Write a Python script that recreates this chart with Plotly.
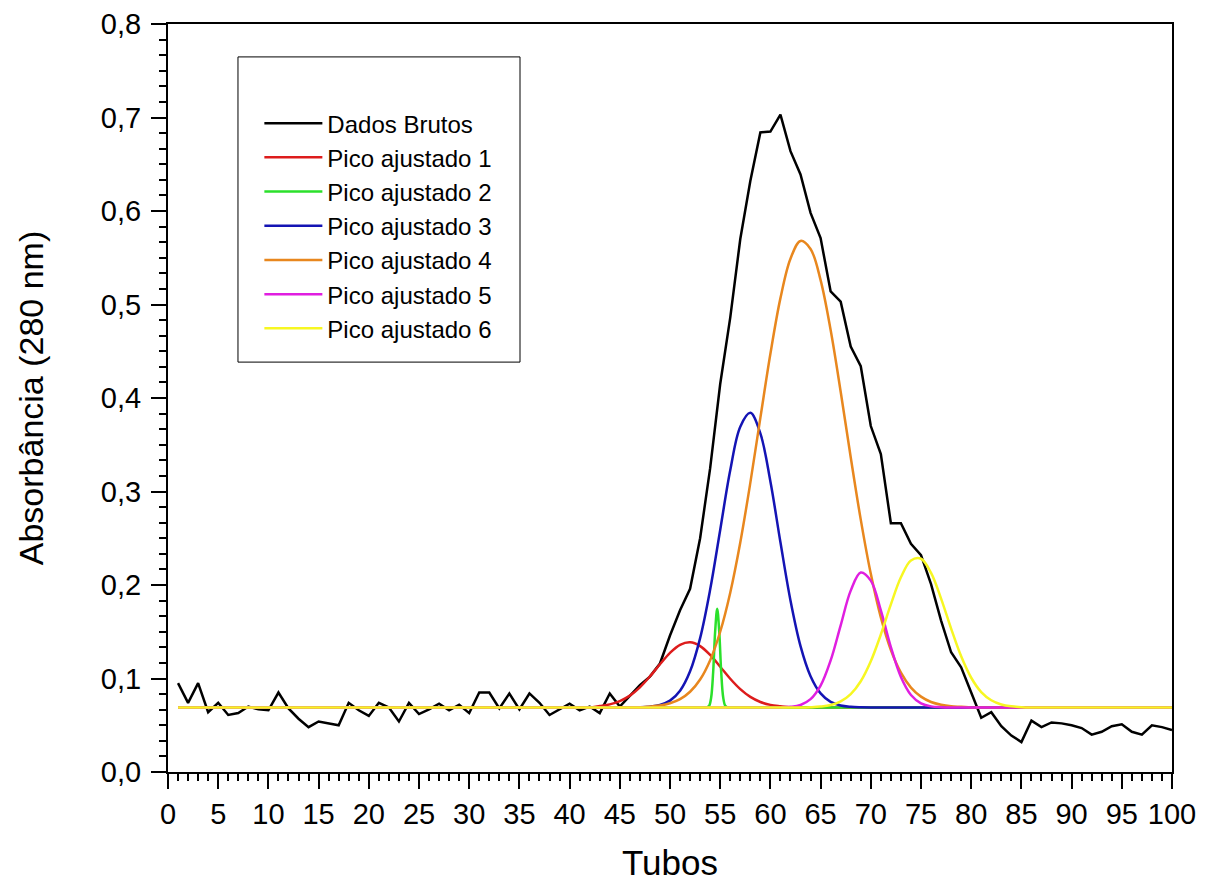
import plotly.graph_objects as go

# ---------------- data ----------------
tubos = list(range(1, 101))
dados_brutos = [
    0.095, 0.074, 0.095, 0.064, 0.074, 0.061, 0.063, 0.070, 0.067, 0.066,
    0.085, 0.068, 0.057, 0.048, 0.054, 0.052, 0.050, 0.074, 0.066, 0.060,
    0.074, 0.069, 0.054, 0.074, 0.062, 0.067, 0.073, 0.066, 0.072, 0.063,
    0.085, 0.085, 0.068, 0.084, 0.067, 0.084, 0.074, 0.061, 0.067, 0.073,
    0.066, 0.070, 0.063, 0.084, 0.070, 0.082, 0.093, 0.102, 0.116, 0.146,
    0.173, 0.196, 0.250, 0.325, 0.415, 0.486, 0.570, 0.632, 0.684, 0.685,
    0.703, 0.664, 0.639, 0.598, 0.571, 0.514, 0.503, 0.455, 0.434, 0.370,
    0.340, 0.266, 0.266, 0.244, 0.232, 0.201, 0.162, 0.128, 0.112, 0.085,
    0.058, 0.064, 0.049, 0.039, 0.032, 0.055, 0.048, 0.053, 0.052, 0.050,
    0.047, 0.040, 0.043, 0.049, 0.051, 0.043, 0.040, 0.050, 0.048, 0.045,
]

# baseline level of the fitted peaks (read from the flat part of the fits)
linha_base = 0.069

# fitted peaks: first tube of the raised part and the values read from it
pico1_inicio = 42
pico1_valores = [0.069, 0.0705, 0.0723, 0.0758, 0.0817, 0.0906, 0.1022, 0.1152, 0.1274, 0.1360,
                 0.1387, 0.1347, 0.1252, 0.1126, 0.0997, 0.0886, 0.0803, 0.0749, 0.0718, 0.0702]

pico3_inicio = 47
pico3_valores = [0.0692, 0.0699, 0.0717, 0.0763, 0.0869, 0.1077, 0.1432, 0.1951, 0.2589, 0.3227,
                 0.3693, 0.3841, 0.3621, 0.3107, 0.2457, 0.1835, 0.1347, 0.1025, 0.0841, 0.0750,
                 0.0711, 0.0697, 0.0692]

pico4_inicio = 48
pico4_valores = [0.0700, 0.0711, 0.0735, 0.0779, 0.0858, 0.0989, 0.1196, 0.150, 0.1918, 0.2455,
                 0.3092, 0.3787, 0.4473, 0.5068, 0.549, 0.568, 0.5594, 0.5261, 0.4727, 0.4067,
                 0.3366, 0.2699, 0.2119, 0.1653, 0.1305, 0.1062, 0.0903, 0.0806, 0.0749, 0.0719,
                 0.0703, 0.0697]

pico5_inicio = 61
pico5_valores = [0.0691, 0.0697, 0.0717, 0.0779, 0.0924, 0.1193, 0.1569, 0.194, 0.2134, 0.2047,
                 0.1728, 0.1335, 0.1016, 0.0824, 0.0735, 0.0702, 0.0693]

pico6_inicio = 63
pico6_valores = [0.069, 0.0693, 0.070, 0.0716, 0.0755, 0.0833, 0.0971, 0.1185, 0.1471, 0.1792,
                 0.2082, 0.2263, 0.2281, 0.2129, 0.1855, 0.1534, 0.1237, 0.1008, 0.0855, 0.0767,
                 0.0722, 0.0702, 0.0693]

# narrow peak 2, read on a finer grid of tube positions
pico2_x_fino = [53.5, 53.7, 53.9, 54.1, 54.3, 54.5, 54.7, 54.9, 55.1, 55.3, 55.5, 55.7, 56.0]
pico2_valores = [0.069, 0.0692, 0.0708, 0.0796, 0.107, 0.1508, 0.1745, 0.1508, 0.107, 0.0796,
                 0.0708, 0.0692, 0.069]

nomes = ["Dados Brutos", "Pico ajustado 1", "Pico ajustado 2", "Pico ajustado 3",
         "Pico ajustado 4", "Pico ajustado 5", "Pico ajustado 6"]
cores = ["#000000", "#DD1C1C", "#2BE02B", "#1414B4", "#E8871E", "#E01EE0", "#F7F722"]

x_ticks = list(range(0, 101, 5))
y_ticks = [0.0, 0.1, 0.2, 0.3, 0.4, 0.5, 0.6, 0.7, 0.8]


def serie_completa(inicio, valores):
    """Tubes 1..100: flat baseline outside the raised part of the peak."""
    antes = [linha_base] * (inicio - 1)
    depois = [linha_base] * (len(tubos) - len(antes) - len(valores))
    return tubos, antes + valores + depois


pico2_x = [t for t in tubos if t <= 53] + pico2_x_fino + [t for t in tubos if t >= 57]
pico2_y = ([linha_base] * len([t for t in tubos if t <= 53]) + pico2_valores
           + [linha_base] * len([t for t in tubos if t >= 57]))

picos = [
    serie_completa(pico1_inicio, pico1_valores),
    (pico2_x, pico2_y),
    serie_completa(pico3_inicio, pico3_valores),
    serie_completa(pico4_inicio, pico4_valores),
    serie_completa(pico5_inicio, pico5_valores),
    serie_completa(pico6_inicio, pico6_valores),
]

# ---------------- figure ----------------
fig = go.Figure()
fig.add_trace(go.Scatter(x=tubos, y=dados_brutos, mode="lines", name=nomes[0],
                         line=dict(color=cores[0], width=2.5)))
for i, (px, py) in enumerate(picos):
    fig.add_trace(go.Scatter(x=px, y=py, mode="lines", name=nomes[i + 1],
                             line=dict(color=cores[i + 1], width=2.5, shape="spline", smoothing=1)))

FONT = "Liberation Sans, Arial, sans-serif"

# the page adds an 8 px body margin, so the figure margins are offset to compensate
fig.update_layout(
    width=1212, height=887,
    margin=dict(l=160, r=48, t=16, b=123),
    paper_bgcolor="white", plot_bgcolor="white",
    separators=",.",
    font=dict(family=FONT, color="black", size=29),
    showlegend=True,
    legend=dict(
        x=0.091, y=0.897, xanchor="left", yanchor="top",
        bgcolor="rgba(0,0,0,0)", borderwidth=0,
        font=dict(family=FONT, size=24, color="black"),
        itemwidth=58, tracegroupgap=0,
    ),
    shapes=[dict(type="rect", xref="paper", yref="paper",
                 x0=0.0697, x1=0.3506, y0=0.548, y1=0.956,
                 line=dict(color="black", width=1), fillcolor="rgba(0,0,0,0)", layer="below")],
)

fig.update_xaxes(
    range=[0, 100], tickmode="array", tickvals=x_ticks, ticktext=[str(v) for v in x_ticks],
    showgrid=False, zeroline=False, automargin=False,
    showline=True, linecolor="black", linewidth=2, mirror=True,
    ticks="outside", ticklen=15, tickwidth=2, tickcolor="black",
    minor=dict(dtick=1, ticks="outside", ticklen=7, tickwidth=2, tickcolor="black", showgrid=False),
    tickfont=dict(family=FONT, size=29, color="black"),
    ticklabelstandoff=0,
    title=dict(text="Tubos", font=dict(family=FONT, size=35, color="black"), standoff=22),
)
fig.update_yaxes(
    range=[0, 0.8], tickmode="array", tickvals=y_ticks,
    ticktext=[f"{v:.1f}".replace(".", ",") for v in y_ticks],
    showgrid=False, zeroline=False, automargin=False,
    showline=True, linecolor="black", linewidth=2, mirror=True,
    ticks="outside", ticklen=15, tickwidth=2, tickcolor="black",
    minor=dict(tick0=0, dtick=0.1 / 6, ticks="outside", ticklen=7, tickwidth=2, tickcolor="black", showgrid=False),
    tickfont=dict(family=FONT, size=29, color="black"),
    ticklabelstandoff=4,
    title=dict(text="Absorbância (280 nm)", font=dict(family=FONT, size=34, color="black"), standoff=47),
)

fig.write_html("out.html")
